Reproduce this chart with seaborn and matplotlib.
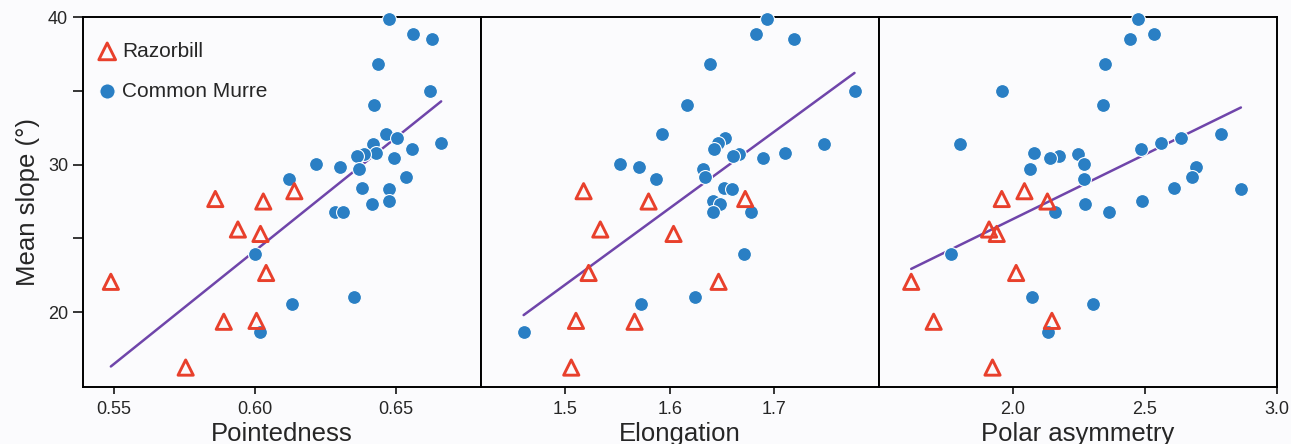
import numpy as np
import pandas as pd
import seaborn as sns
import matplotlib.pyplot as plt

# mean slope (deg), one value per egg
razor_slope = [28.2, 27.67, 27.5, 25.6, 25.3, 22.65, 22.05, 19.4, 19.34, 16.23]
razor_point = [0.614, 0.586, 0.603, 0.594, 0.602, 0.604, 0.549, 0.6006, 0.589, 0.5755]
razor_elong = [1.5175, 1.6722, 1.5797, 1.5335, 1.6036, 1.5223, 1.6467, 1.5102, 1.5663, 1.5057]
razor_polar = [2.044, 1.958, 2.131, 1.91, 1.939, 2.0125, 1.615, 2.148, 1.70, 1.923]

murre_slope = [39.88, 38.86, 38.54, 36.8, 34.98, 34.06, 32.05, 31.78, 31.49, 31.37,
               31.05, 30.8, 30.75, 30.57, 30.46, 30.07, 29.84, 29.73, 29.15, 29.04,
               28.4, 28.36, 27.56, 27.33, 26.76, 26.76, 23.97, 21.05, 20.55, 18.65]
murre_point = [0.6474, 0.6561, 0.6627, 0.6435, 0.6622, 0.6423, 0.6465, 0.6502, 0.666, 0.6417,
               0.6556, 0.6429, 0.6385, 0.6362, 0.6494, 0.6216, 0.6301, 0.6368, 0.6536, 0.6122,
               0.6379, 0.6476, 0.6476, 0.6415, 0.6284, 0.6313, 0.600, 0.6352, 0.6131, 0.6019]
murre_elong = [1.693, 1.6828, 1.7191, 1.6388, 1.7768, 1.6169, 1.5929, 1.6524, 1.6458, 1.7472,
               1.6423, 1.7099, 1.6665, 1.6604, 1.6891, 1.552, 1.5708, 1.6317, 1.634, 1.5871,
               1.6515, 1.6595, 1.641, 1.6477, 1.641, 1.6777, 1.6713, 1.6237, 1.5721, 1.4601]
murre_polar = [2.4735, 2.533, 2.442, 2.35, 1.958, 2.34, 2.79, 2.6375, 2.5618, 1.80,
               2.485, 2.0795, 2.246, 2.173, 2.139, 2.269, 2.694, 2.0657, 2.679, 2.268,
               2.611, 2.864, 2.4886, 2.2715, 2.16, 2.366, 1.765, 2.0745, 2.302, 2.135]

df = pd.DataFrame({
    'species': ['Razorbill'] * len(razor_slope) + ['Common Murre'] * len(murre_slope),
    'slope': razor_slope + murre_slope,
    'Pointedness': razor_point + murre_point,
    'Elongation': razor_elong + murre_elong,
    'Polar asymmetry': razor_polar + murre_polar,
})

red = '#e8402c'
blue = '#2a7fc4'
purple = '#6f45aa'
bg = '#fbfbfd'

sns.set_style('ticks')
plt.rcParams['font.family'] = ['Liberation Sans', 'DejaVu Sans']

fig, axes = plt.subplots(1, 3, figsize=(12.91, 4.44), dpi=100, sharey=True, facecolor=bg)
fig.subplots_adjust(left=0.064, right=0.989, top=0.961, bottom=0.128, wspace=0)

panels = [
    ('Pointedness', (0.539, 0.680), [0.55, 0.60, 0.65], ['0.55', '0.60', '0.65']),
    ('Elongation', (1.419, 1.800), [1.5, 1.6, 1.7], ['1.5', '1.6', '1.7']),
    ('Polar asymmetry', (1.492, 3.0), [2.0, 2.5, 3.0], ['2.0', '2.5', '3.0']),
]

for i, (col, xlim, xt, xtl) in enumerate(panels):
    ax = axes[i]
    ax.set_facecolor(bg)
    sns.regplot(data=df, x=col, y='slope', scatter=False, ci=None, color=purple,
                line_kws={'lw': 1.8}, ax=ax)
    sns.scatterplot(data=df[df.species == 'Common Murre'], x=col, y='slope', ax=ax,
                    color=blue, s=100, edgecolor='white', linewidth=0.8,
                    label='Common Murre', legend=False, clip_on=False, zorder=3)
    sns.scatterplot(data=df[df.species == 'Razorbill'], x=col, y='slope', ax=ax,
                    marker='^', color=red, facecolor='none', edgecolor=red, s=120,
                    linewidth=2.1, label='Razorbill', legend=False, zorder=4)
    ax.set_xlim(*xlim)
    ax.set_ylim(14.9, 40.0)
    ax.set_xticks(xt)
    ax.set_xticklabels(xtl, fontsize=13)
    ax.set_xlabel(col, fontsize=18.5, labelpad=3)
    for sp in ax.spines.values():
        sp.set_visible(True)
        sp.set_color('black')
        sp.set_linewidth(1.4)
    ax.tick_params(axis='x', length=5, width=1.3, direction='out', pad=5)
    if i == 0:
        ax.set_yticks([20, 25, 30, 35, 40])
        ax.set_yticklabels(['20', '', '30', '', '40'], fontsize=13)
        ax.tick_params(axis='y', length=7, width=1.3, direction='out')
        ax.set_ylabel('Mean slope (°)', fontsize=18.5, labelpad=6)
        h, l = ax.get_legend_handles_labels()
        order = [l.index('Razorbill'), l.index('Common Murre')]
        ax.legend([h[k] for k in order], [l[k] for k in order], loc='upper left',
                  bbox_to_anchor=(-0.022, 0.99), frameon=False, fontsize=15,
                  handletextpad=0.1, labelspacing=1.0, borderaxespad=0.6,
                  handlelength=1.2, markerscale=1.1)
    else:
        ax.tick_params(axis='y', length=0)
        ax.set_ylabel('')

fig.savefig('out.png', dpi=100, facecolor=bg)
